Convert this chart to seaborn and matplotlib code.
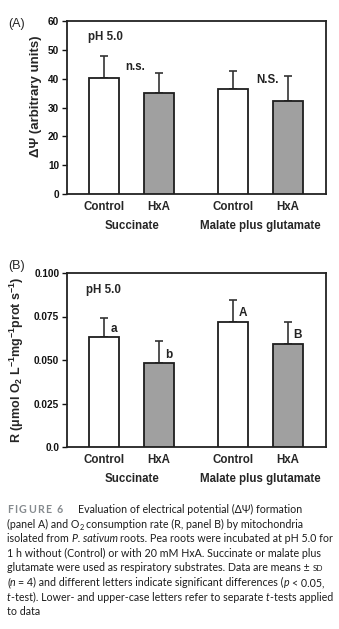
import numpy as np
import pandas as pd
import matplotlib
matplotlib.use("Agg")
import matplotlib.pyplot as plt
import seaborn as sns

# ---------------- data ----------------
conditions = ["Control", "HxA", "Control", "HxA"]
substrates = ["Succinate", "Succinate", "Malate plus glutamate", "Malate plus glutamate"]
positions = [0.0, 1.0, 2.35, 3.35]
group_labels = ["Succinate", "Malate plus glutamate"]

dpsi_mean = [40.1, 35.1, 36.3, 32.4]
dpsi_sd = [7.8, 7.0, 6.5, 8.5]

r_mean = [0.0631, 0.0481, 0.0719, 0.0592]
r_sd = [0.0109, 0.0127, 0.0123, 0.0129]
r_letters = ["a", "b", "A", "B"]

yticks_a = [0, 10, 20, 30, 40, 50, 60]
yticks_b = [0.0, 0.025, 0.050, 0.075, 0.100]
yticklabels_b = ["0.0", "0.025", "0.050", "0.075", "0.100"]

# ---------------- style ----------------
sns.set_theme(style="white")
plt.rcParams["font.family"] = ["Liberation Sans", "DejaVu Sans"]
plt.rcParams["mathtext.fontset"] = "custom"
plt.rcParams["mathtext.rm"] = "Liberation Sans:bold"
plt.rcParams["mathtext.bf"] = "Liberation Sans:bold"
plt.rcParams["mathtext.it"] = "Liberation Sans:italic:bold"

W, H = 339, 629
fig = plt.figure(figsize=(W / 100, H / 100), dpi=100)
fig.patch.set_facecolor("white")

edge = "#1e1e1e"
palette = {"Control": "white", "HxA": "#a0a0a0"}


def px_axes(left, top, right, bottom):
    return fig.add_axes([left / W, 1 - bottom / H, (right - left) / W, (bottom - top) / H])


def draw_panel(ax, means, sds, ylim, yticks, yticklabels):
    df = pd.DataFrame({"pos": positions, "val": means, "cond": conditions, "sub": substrates})
    sns.barplot(data=df, x="pos", y="val", hue="cond", native_scale=True, dodge=False,
                palette=palette, edgecolor=edge, linewidth=1.3, width=0.54,
                errorbar=None, legend=False, ax=ax, zorder=3)
    ax.errorbar(positions, means, yerr=[np.zeros(len(means)), sds], fmt="none",
                ecolor="#333333", elinewidth=1.2, capsize=3, capthick=1.2, zorder=2)
    ax.set_xlim(-0.68, 4.04)
    ax.set_ylim(*ylim)
    ax.set_yticks(yticks)
    ax.set_yticklabels(yticklabels, fontsize=7.2, fontweight="bold")
    ax.set_xticks(positions)
    ax.set_xticklabels(conditions, fontsize=8.3, fontweight="bold")
    ax.tick_params(axis="x", length=0, pad=5)
    ax.tick_params(axis="y", length=3.5, width=1.0, pad=2, left=True, direction="out", colors="#111111")
    for s in ax.spines.values():
        s.set_linewidth(1.3)
        s.set_color("#222222")
    ax.set_xlabel("")
    trans = matplotlib.transforms.blended_transform_factory(ax.transData, ax.transAxes)
    centers = [(positions[0] + positions[1]) / 2, (positions[2] + positions[3]) / 2]
    for c, lab in zip(centers, group_labels):
        ax.text(c, -0.185, lab, transform=trans, ha="center", va="center",
                fontsize=8.3, fontweight="bold")


# Panel A
axA = px_axes(67, 21, 326, 194)
draw_panel(axA, dpsi_mean, dpsi_sd, (0, 60), yticks_a, [str(v) for v in yticks_a])
axA.set_ylabel("ΔΨ (arbitrary units)", fontsize=9.5, fontweight="bold")
axA.yaxis.set_label_coords(-0.097, 0.564)
axA.text(0.081, 0.907, "pH 5.0", transform=axA.transAxes, fontsize=8.4,
         fontweight="bold", va="center", ha="left")
axA.text(0.224, 0.734, "n.s.", transform=axA.transAxes, fontsize=8.3,
         fontweight="bold", va="center", ha="left", color="#222222")
axA.text(0.730, 0.659, "N.S.", transform=axA.transAxes, fontsize=8.3,
         fontweight="bold", va="center", ha="left", color="#222222")

# Panel B
axB = px_axes(67, 273, 326, 447)
draw_panel(axB, r_mean, r_sd, (0, 0.1), yticks_b, yticklabels_b)
axB.set_ylabel(r"R (μmol O$_2$ L$^{-1}$mg$^{-1}$prot s$^{-1}$)", fontsize=9.0, fontweight="bold")
axB.yaxis.set_label_coords(-0.158, 0.5)
axB.text(0.073, 0.902, "pH 5.0", transform=axB.transAxes, fontsize=8.4,
         fontweight="bold", va="center", ha="left")
for p, m, lab in zip(positions, r_mean, r_letters):
    axB.text(p + 0.17, m + 0.005, lab, fontsize=8.5, fontweight="bold",
             ha="center", va="center", color="#222222")

fig.text(8 / W, 1 - 24 / H, "(A)", fontsize=9, va="center", ha="left")
fig.text(8 / W, 1 - 266 / H, "(B)", fontsize=9, va="center", ha="left")

# ---------------- caption ----------------
renderer = fig.canvas.get_renderer()
cap_fs = 7.65
cap_col = "#1c1c1c"
base_kw = dict(fontsize=cap_fs, family=["Lato", "DejaVu Sans"], color=cap_col)


def measure(s, **kw):
    if s == "":
        return 0.0
    t1 = fig.text(0, 0, "|" + s + "|", **kw)
    t2 = fig.text(0, 0, "||", **kw)
    w = t1.get_window_extent(renderer).width - t2.get_window_extent(renderer).width
    t1.remove()
    t2.remove()
    return w


def draw_line(x, y, segs):
    for s, extra in segs:
        kw = dict(base_kw)
        dy = 0
        if "dy" in extra:
            extra = dict(extra)
            dy = extra.pop("dy")
        kw.update(extra)
        lead = s[:len(s) - len(s.lstrip())]
        trail = s[len(s.rstrip()):]
        core = s.strip()
        x += measure(lead, **kw)
        if core:
            fig.text(x / W, 1 - (y + dy) / H, core, va="baseline", ha="left", **kw)
            x += measure(core, **kw)
        x += measure(trail, **kw)
    return x


y0 = 513
dl = 14.6
# "FIGURE 6" letter-spaced, gray
xx = 7
for ch in "FIGURE 6":
    kw = dict(base_kw)
    kw.update(color="#858a8e", fontweight="bold")
    if ch != " ":
        fig.text(xx / W, 1 - y0 / H, ch, va="baseline", ha="left", **kw)
    xx += measure(ch, **kw) + 1.3
draw_line(78, y0, [("Evaluation of electrical potential (ΔΨ) formation", {})])
draw_line(7, y0 + dl, [("(panel A) and O", {}), ("2", {"fontsize": cap_fs * 0.7, "dy": 2}),
                       (" consumption rate (R, panel B) by mitochondria", {})])
draw_line(7, y0 + 2 * dl, [("isolated from ", {}), ("P. sativum", {"style": "italic"}),
                           (" roots. Pea roots were incubated at pH 5.0 for", {})])
draw_line(7, y0 + 3 * dl, [("1 h without (Control) or with 20 mM HxA. Succinate or malate plus", {})])
draw_line(7, y0 + 4 * dl, [("glutamate were used as respiratory substrates. Data are means ± ", {}),
                           ("SD", {"fontsize": cap_fs * 0.75})])
draw_line(7, y0 + 5 * dl, [("(", {}), ("n", {"style": "italic"}),
                           (" = 4) and different letters indicate significant differences (", {}),
                           ("p", {"style": "italic"}), (" < 0.05,", {})])
draw_line(7, y0 + 6 * dl, [("t", {"style": "italic"}),
                           ("-test). Lower- and upper-case letters refer to separate ", {}),
                           ("t", {"style": "italic"}), ("-tests applied", {})])
draw_line(7, y0 + 7 * dl, [("to data", {})])

fig.savefig("out.png", dpi=100, facecolor="white")
